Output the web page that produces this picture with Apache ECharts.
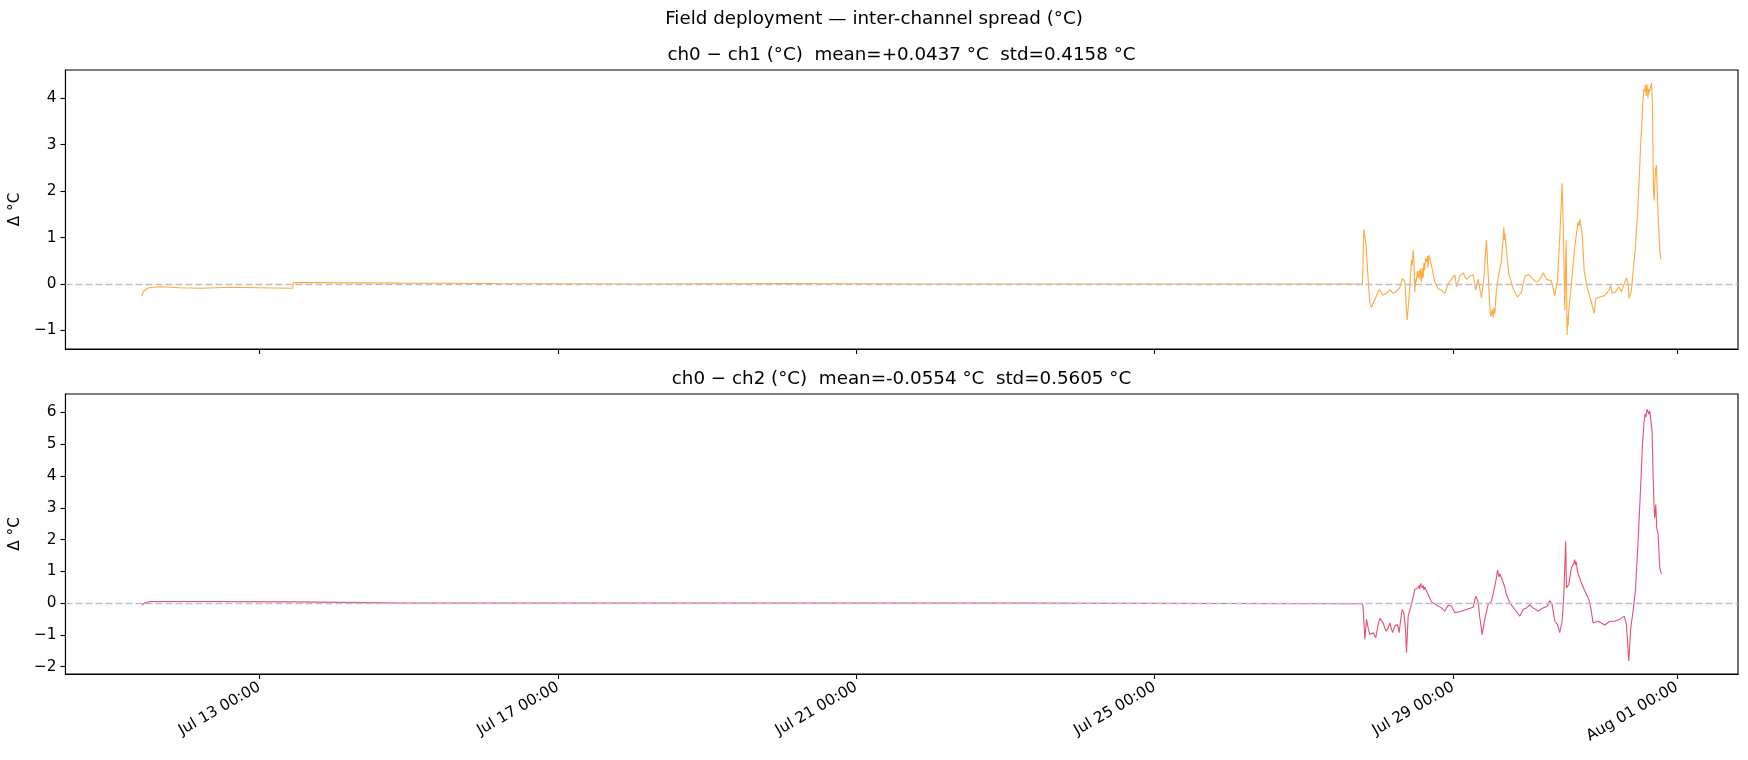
<!DOCTYPE html>
<html>
<head>
<meta charset="utf-8">
<script src="https://cdn.jsdelivr.net/npm/echarts@6/dist/echarts.min.js"></script>
<style>html,body{margin:0;padding:0;background:#fff}#c{width:1748px;height:760px}</style>
</head>
<body>
<div id="c"></div>
<script>
// ---- data: [time "MM-DD HH:MM" (2025), value °C] ----
const ch1Data = [
['07-11 10:10',-0.26],['07-11 10:42',-0.16],['07-11 12:18',-0.08],['07-11 16:06',-0.06],['07-11 22:30',-0.08],
['07-12 04:56',-0.09],['07-12 14:36',-0.07],['07-13 00:00',-0.08],['07-13 10:44',-0.09],['07-13 10:56',0.03],
['07-13 19:30',0.03],['07-14 21:15',0.02],['07-16 05:25',0.01],['07-18 00:00',0.0],['07-20 00:00',0.01],
['07-22 00:00',0.0],['07-24 00:00',0.0],['07-26 00:00',0.0],['07-27 18:50',0.0],
['07-27 19:15',1.18],['07-27 19:54',0.88],['07-27 20:39',0.10],['07-27 21:11',-0.40],['07-27 21:43',-0.50],['07-27 22:47',-0.34],
['07-28 00:11',-0.12],['07-28 01:28',-0.24],['07-28 02:33',-0.20],['07-28 03:37',-0.12],['07-28 04:41',-0.20],['07-28 05:46',-0.16],
['07-28 06:50',-0.08],['07-28 07:41',0.12],['07-28 08:26',0.05],['07-28 09:11',-0.78],['07-28 09:50',-0.28],['07-28 10:35',0.52],
['07-28 10:50',0.40],['07-28 11:07',0.73],['07-28 11:20',0.55],['07-28 11:39',-0.17],['07-28 11:55',0.10],['07-28 12:10',0.05],
['07-28 12:25',0.28],['07-28 12:44',0.13],['07-28 13:05',0.30],['07-28 13:15',0.10],['07-28 13:29',0.34],['07-28 13:40',0.15],
['07-28 13:50',0.05],['07-28 14:05',0.35],['07-28 14:20',0.13],['07-28 14:35',0.45],['07-28 14:50',0.30],['07-28 15:05',0.55],
['07-28 15:25',0.48],['07-28 15:40',0.60],['07-28 15:55',0.35],['07-28 16:10',0.62],['07-28 16:29',0.55],['07-28 16:50',0.45],
['07-28 17:20',0.30],['07-28 18:05',0.04],['07-28 19:10',-0.10],['07-28 20:14',-0.13],['07-28 21:18',-0.20],['07-28 22:23',0.0],
['07-28 23:27',0.10],
['07-29 00:31',0.20],['07-29 01:04',-0.06],['07-29 02:08',0.17],['07-29 03:12',0.24],['07-29 04:16',0.10],['07-29 05:21',0.17],
['07-29 06:25',0.20],['07-29 07:16',-0.13],['07-29 08:01',0.10],['07-29 09:06',-0.30],['07-29 09:51',0.13],['07-29 10:42',0.95],
['07-29 11:14',0.98],['07-29 11:47',-0.49],['07-29 12:05',-0.70],['07-29 12:19',-0.74],['07-29 12:35',-0.55],['07-29 12:50',-0.72],
['07-29 13:05',-0.52],['07-29 13:23',-0.64],['07-29 13:50',-0.20],['07-29 14:27',0.13],['07-29 15:32',0.50],['07-29 15:50',0.80],
['07-29 16:05',0.95],['07-29 16:17',1.23],['07-29 16:25',0.95],['07-29 16:36',1.10],['07-29 17:08',0.73],['07-29 17:53',0.22],
['07-29 19:17',-0.10],['07-29 20:41',-0.28],['07-29 21:58',-0.18],['07-29 23:02',0.17],
['07-30 00:19',0.20],['07-30 01:43',0.10],['07-30 02:47',0.04],['07-30 03:51',0.10],['07-30 04:56',0.24],['07-30 06:00',0.10],
['07-30 07:36',0.07],['07-30 08:41',-0.25],['07-30 09:32',0.07],['07-30 10:17',1.00],['07-30 11:02',2.17],['07-30 11:28',1.08],
['07-30 11:54',-0.56],['07-30 12:20',0.94],['07-30 12:39',-1.10],['07-30 12:50',-0.70],['07-30 13:00',-0.90],['07-30 13:11',-0.56],
['07-30 14:02',0.0],['07-30 15:07',0.80],['07-30 15:40',1.10],['07-30 16:11',1.34],['07-30 16:30',1.25],['07-30 16:45',1.40],
['07-30 17:02',1.38],['07-30 17:15',1.20],['07-30 17:35',1.00],['07-30 18:07',0.30],['07-30 19:11',-0.10],['07-30 20:16',-0.34],
['07-30 21:20',-0.63],['07-30 21:52',-0.31],['07-30 23:09',-0.28],
['07-31 00:46',-0.25],['07-31 02:03',-0.14],['07-31 02:41',-0.04],['07-31 03:07',-0.20],['07-31 04:11',-0.17],['07-31 05:16',-0.06],
['07-31 06:07',-0.17],['07-31 06:59',0.0],['07-31 07:44',0.13],['07-31 08:16',0.0],['07-31 08:35',-0.31],['07-31 09:20',-0.14],
['07-31 09:52',0.27],['07-31 10:37',0.79],['07-31 11:29',1.73],['07-31 12:20',3.03],['07-31 13:05',3.97],['07-31 13:20',4.20],
['07-31 13:37',4.15],['07-31 13:50',4.28],['07-31 14:05',4.05],['07-31 14:15',4.30],['07-31 14:29',4.22],['07-31 14:40',4.00],
['07-31 14:50',4.20],['07-31 15:00',4.10],['07-31 15:14',4.08],['07-31 15:30',4.25],['07-31 15:46',4.33],['07-31 16:05',3.93],
['07-31 16:25',2.10],['07-31 16:38',1.80],['07-31 17:04',2.46],['07-31 17:23',2.56],['07-31 17:42',1.81],['07-31 18:27',0.73],
['07-31 18:46',0.55],['07-31 18:59',0.53]
];

const ch2Data = [
['07-11 10:10',-0.07],['07-11 11:00',0.0],['07-11 13:00',0.05],['07-12 06:00',0.05],['07-13 10:44',0.04],['07-13 10:56',0.01],
['07-15 00:00',0.0],['07-19 00:00',0.0],['07-23 00:00',0.0],['07-26 00:00',-0.01],['07-27 12:00',-0.02],['07-27 18:50',-0.02],
['07-27 19:02',-0.15],['07-27 19:35',-1.14],['07-27 20:07',-0.51],['07-27 20:39',-0.78],['07-27 21:11',-0.99],['07-27 22:16',-0.93],
['07-27 23:07',-1.09],['07-27 23:52',-0.67],
['07-28 00:24',-0.48],['07-28 01:28',-0.62],['07-28 02:20',-0.88],['07-28 03:05',-0.78],['07-28 03:37',-0.62],['07-28 04:29',-0.93],
['07-28 05:14',-0.72],['07-28 06:05',-0.67],['07-28 06:37',-0.93],['07-28 07:03',-0.57],['07-28 07:35',-0.20],['07-28 08:07',-0.30],
['07-28 08:39',-0.78],['07-28 08:59',-1.56],['07-28 09:31',-0.41],['07-28 10:35',-0.04],['07-28 11:39',0.43],['07-28 12:10',0.38],
['07-28 12:44',0.48],['07-28 13:00',0.55],['07-28 13:15',0.45],['07-28 13:30',0.62],['07-28 13:48',0.59],['07-28 14:05',0.48],
['07-28 14:20',0.56],['07-28 14:35',0.42],['07-28 14:52',0.50],['07-28 15:57',0.27],['07-28 17:01',0.04],['07-28 18:37',-0.06],
['07-28 20:14',-0.15],['07-28 21:18',-0.25],['07-28 22:23',-0.07],['07-28 23:27',-0.09],
['07-29 00:31',-0.30],['07-29 02:08',-0.27],['07-29 04:16',-0.20],['07-29 06:25',-0.13],['07-29 07:16',0.22],['07-29 08:01',0.06],
['07-29 08:34',-0.46],['07-29 09:19',-0.99],['07-29 10:10',-0.51],['07-29 11:14',-0.04],['07-29 12:19',0.06],['07-29 13:23',0.53],
['07-29 14:00',0.85],['07-29 14:15',1.05],['07-29 14:27',1.00],['07-29 14:45',0.82],['07-29 15:00',0.92],['07-29 15:32',0.80],
['07-29 16:36',0.50],['07-29 17:08',0.27],['07-29 18:13',0.01],['07-29 19:49',-0.20],['07-29 21:26',-0.41],['07-29 22:30',-0.20],
['07-29 23:34',-0.15],
['07-30 00:38',-0.06],['07-30 01:43',-0.15],['07-30 03:19',-0.25],['07-30 04:56',-0.15],['07-30 06:19',-0.09],['07-30 07:04',0.08],
['07-30 07:49',-0.04],['07-30 08:41',-0.57],['07-30 09:32',-0.67],['07-30 10:17',-0.93],['07-30 11:02',-0.57],['07-30 11:34',0.22],
['07-30 12:12',1.95],['07-30 12:26',0.48],['07-30 13:11',0.59],['07-30 14:02',1.11],['07-30 14:45',1.25],['07-30 15:07',1.37],
['07-30 15:20',1.20],['07-30 15:35',1.30],['07-30 15:58',1.00],['07-30 17:02',0.69],['07-30 18:20',0.38],['07-30 19:37',0.12],
['07-30 20:16',-0.15],['07-30 21:00',-0.62],['07-30 22:37',-0.57],
['07-31 00:46',-0.69],['07-31 02:22',-0.57],['07-31 03:58',-0.57],['07-31 05:35',-0.51],['07-31 06:59',-0.41],['07-31 07:44',-0.67],
['07-31 08:29',-1.82],['07-31 09:07',-0.78],['07-31 09:52',-0.25],['07-31 10:37',0.38],['07-31 11:29',1.95],['07-31 12:14',3.52],
['07-31 12:53',4.99],['07-31 13:25',5.72],['07-31 13:45',5.95],['07-31 14:00',5.85],['07-31 14:10',5.99],['07-31 14:25',6.10],
['07-31 14:42',6.15],['07-31 14:55',5.95],['07-31 15:14',6.05],['07-31 15:33',5.78],['07-31 15:59',5.41],['07-31 16:18',4.05],
['07-31 16:38',3.00],['07-31 16:50',2.68],['07-31 17:10',3.10],['07-31 17:29',2.37],['07-31 17:55',2.16],['07-31 18:27',1.11],
['07-31 18:59',0.92]
];

const xTickLabels = ['07-13 00:00','07-17 00:00','07-21 00:00','07-25 00:00','07-29 00:00','08-01 00:00'];
const y1Ticks = [-1,0,1,2,3,4];
const y2Ticks = [-2,-1,0,1,2,3,4,5,6];
const mainTitle = 'Field deployment — inter-channel spread (°C)';
const title1 = 'ch0 − ch1 (°C)  mean=+0.0437 °C  std=0.4158 °C';
const title2 = 'ch0 − ch2 (°C)  mean=-0.0554 °C  std=0.5605 °C';

// ---- helpers ----
function toTs(s){
  const [md, hm] = s.split(' ');
  const [mo, d] = md.split('-').map(Number);
  const [h, mi] = hm.split(':').map(Number);
  return new Date(2025, mo-1, d, h, mi).getTime();
}
const MONTHS = ['Jan','Feb','Mar','Apr','May','Jun','Jul','Aug','Sep','Oct','Nov','Dec'];
const pad = n => String(n).padStart(2,'0');
function fmtDate(v){
  const d = new Date(v);
  return MONTHS[d.getMonth()] + ' ' + pad(d.getDate()) + ' ' + pad(d.getHours()) + ':' + pad(d.getMinutes());
}
const fmtNum = v => String(v).replace('-', '\u2212');

const s1 = ch1Data.map(p=>[toTs(p[0]), p[1]]);
const s2 = ch2Data.map(p=>[toTs(p[0]), p[1]]);
const xTicks = xTickLabels.map(toTs);
const xMin = toTs('07-10 09:37');
const xMax = toTs('08-01 19:37');

const FONT = 'DejaVu Sans';
const COL1 = '#ffa02a';
const COL2 = '#e33d5e';
const TICK_FS = 15.3;
const TITLE_FS = 18.3;

const chart = echarts.init(document.getElementById('c'), null, {renderer:'canvas'});

function xAxis(gi, showLabels){
  return {
    type:'value', gridIndex:gi, min:xMin, max:xMax, scale:true,
    axisLine:{show:true, onZero:false, lineStyle:{color:'#000', width:1.1}},
    axisTick:{show:true, length:5, lineStyle:{color:'#000', width:1.1}, customValues:xTicks},
    axisLabel:{show:showLabels, customValues:xTicks, formatter:fmtDate, rotate:30, margin:12,
      fontFamily:FONT, fontSize:TICK_FS, color:'#000', hideOverlap:false, showMinLabel:true, showMaxLabel:true},
    splitLine:{show:false}
  };
}
function yAxis(gi, mn, mx, ticks){
  return {
    type:'value', gridIndex:gi, min:mn, max:mx,
    name:'Δ °C', nameLocation:'middle', nameGap:39,
    nameTextStyle:{fontFamily:FONT, fontSize:TICK_FS, color:'#000'},
    axisLine:{show:true, onZero:false, lineStyle:{color:'#000', width:1.1}},
    axisTick:{show:true, length:5, lineStyle:{color:'#000', width:1.1}, customValues:ticks},
    axisLabel:{customValues:ticks, formatter:fmtNum, margin:9, fontFamily:FONT, fontSize:TICK_FS, color:'#000',
      showMinLabel:true, showMaxLabel:true},
    splitLine:{show:false}
  };
}
const zeroLine = {
  silent:true, symbol:'none', label:{show:false},
  lineStyle:{color:'#bfbfbf', type:[7,3], width:1.3},
  data:[{yAxis:0}]
};

chart.setOption({
  animation:false,
  backgroundColor:'#fff',
  graphic:[
    {type:'text', x:874, y:19, style:{text:mainTitle, font:TITLE_FS+'px '+FONT, fill:'#000', textAlign:'center', textVerticalAlign:'middle'}},
    {type:'text', x:901.5, y:55, style:{text:title1, font:TITLE_FS+'px '+FONT, fill:'#000', textAlign:'center', textVerticalAlign:'middle'}},
    {type:'text', x:901.5, y:379, style:{text:title2, font:TITLE_FS+'px '+FONT, fill:'#000', textAlign:'center', textVerticalAlign:'middle'}}
  ],
  grid:[
    {left:65, width:1673, top:70, height:279, show:true, borderColor:'#000', borderWidth:1.1, containLabel:false},
    {left:65, width:1673, top:394, height:280, show:true, borderColor:'#000', borderWidth:1.1, containLabel:false}
  ],
  xAxis:[xAxis(0,false), xAxis(1,true)],
  yAxis:[yAxis(0,-1.40,4.61,y1Ticks), yAxis(1,-2.23,6.58,y2Ticks)],
  series:[
    {type:'line', xAxisIndex:0, yAxisIndex:0, data:s1, showSymbol:false, symbol:'none',
     lineStyle:{color:COL1, width:1.1, opacity:0.9}, markLine:zeroLine, z:3},
    {type:'line', xAxisIndex:1, yAxisIndex:1, data:s2, showSymbol:false, symbol:'none',
     lineStyle:{color:COL2, width:1.1, opacity:0.9}, markLine:zeroLine, z:3}
  ]
});
</script>
</body>
</html>
